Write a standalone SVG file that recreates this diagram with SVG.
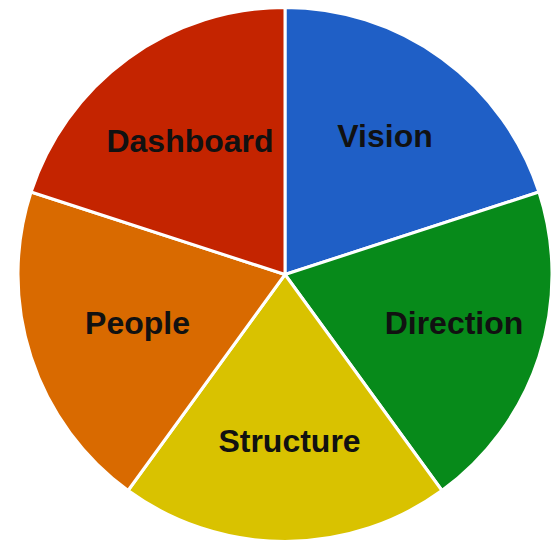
<svg xmlns="http://www.w3.org/2000/svg" width="557" height="541" viewBox="0 0 557 541">
<style>
.s{stroke:#ffffff;stroke-width:3;stroke-linejoin:round}
.t{font-family:"Liberation Sans",Arial,sans-serif;font-weight:bold;font-size:32px;fill:#111111;text-anchor:middle}
</style>
<rect width="557" height="541" fill="#ffffff"/>
<g id="vision">
<path class="s" fill="#1f5fc6" d="M285,274.5 L285,7.5 A267,267 0 0 1 538.93,192 Z"/>
<text class="t" x="385" y="147">Vision</text>
</g>
<g id="direction">
<path class="s" fill="#078a1a" d="M285,274.5 L538.93,192 A267,267 0 0 1 441.94,490.5 Z"/>
<text class="t" x="454" y="334">Direction</text>
</g>
<g id="structure">
<path class="s" fill="#d9c200" d="M285,274.5 L441.94,490.5 A267,267 0 0 1 128.06,490.5 Z"/>
<text class="t" x="289.5" y="452">Structure</text>
</g>
<g id="people">
<path class="s" fill="#d96a00" d="M285,274.5 L128.06,490.5 A267,267 0 0 1 31.07,192 Z"/>
<text class="t" x="137.5" y="334">People</text>
</g>
<g id="dashboard">
<path class="s" fill="#c42400" d="M285,274.5 L31.07,192 A267,267 0 0 1 285,7.5 Z"/>
<text class="t" x="190" y="152">Dashboard</text>
</g>
<g id="connectors"></g>
</svg>
